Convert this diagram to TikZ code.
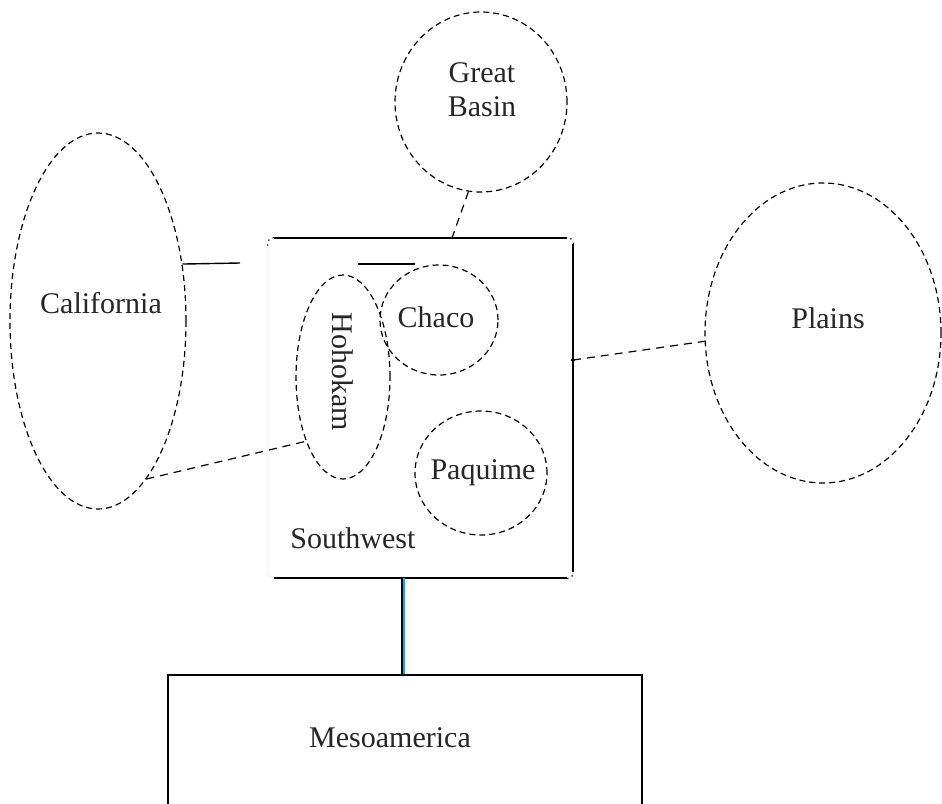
\documentclass[tikz,border=0pt]{standalone}
\usepackage{fontspec}
\setmainfont{Liberation Serif}
\usetikzlibrary{shapes.geometric,calc}
\begin{document}
\begin{tikzpicture}[x=0.5pt,y=-0.5pt,
  region/.style={draw, ellipse, inner sep=0pt, line width=0.6pt, dash pattern=on 3pt off 2pt},
  lbl/.style={font=\fontsize{15}{17}\selectfont, inner sep=0pt, align=center, text=black!85},
  link/.style={line width=0.7pt},
  dlink/.style={line width=0.6pt, dash pattern=on 4pt off 3pt},
  edge/.style={line width=1pt}]
\useasboundingbox (0,0) rectangle (942,803);
\clip (0,0) rectangle (942,803);

% outer regions
\node[region, minimum width=86pt, minimum height=90pt] (gb) at (481,102) {};
\node[lbl] (gbt) at (482,90) {Great\\Basin};
\node[region, minimum width=88pt, minimum height=188pt] (cal) at (98,321) {};
\node[lbl] (calt) at (101,303) {California};
\node[region, minimum width=118pt, minimum height=150pt] (plains) at (823,333) {};
\node[lbl] (plainst) at (828,318) {Plains};

% Southwest box
\node[draw=black!8, rounded corners=3pt, minimum width=152.5pt, minimum height=170pt, inner sep=0pt] (sw) at (420.5,408) {};
\draw[line width=0.6pt, dotted, rounded corners=3pt] ([xshift=-4pt]sw.north west) ++(4pt,-4pt) |- ++(4pt,4pt);
\draw[line width=0.6pt, dotted, rounded corners=3pt] ([xshift=-4pt]sw.north east) -| ([yshift=-4pt]sw.north east);
\draw[line width=0.6pt, dotted, rounded corners=3pt] ([yshift=4pt]sw.south east) |- ([xshift=-4pt]sw.south east);
\draw[edge] ([xshift=3pt]sw.north west) -- ([xshift=-3pt]sw.north east);
\draw[edge] ([yshift=-3pt]sw.north east) -- ([yshift=3pt]sw.south east);
\draw[edge] ([xshift=-3pt]sw.south east) -- ([xshift=3pt]sw.south west);
\node[lbl, anchor=west] (swt) at (290,538) {Southwest};

% inner regions
\node[region, minimum width=47pt, minimum height=102pt] (hoh) at (343,377) {};
\node[lbl, rotate=-90] (koht) at (343,372) {Hohokam};
\node[region, minimum width=59pt, minimum height=55pt] (chaco) at (439,320) {};
\node[lbl] (chacot) at (436,317) {Chaco};
\node[region, minimum width=66pt, minimum height=62pt] (paq) at (481,473) {};
\node[lbl] (paqt) at (483,473) {Paquime};

% Mesoamerica
\node[draw, line width=1pt, minimum width=237pt, minimum height=110pt, inner sep=0pt] (meso) at (405,785) {};
\node[lbl] (mesot) at (390,738) {Mesoamerica};

% connectors
\coordinate (gbin) at (452,238);
\draw[dlink] (gb.262) -- (gbin);
\coordinate (calin) at (240,263);
\draw[link] (cal.34) -- (calin);
\coordinate (chin) at (358,264);
\draw[link] (chin) -- (chin -| chaco.115);
\draw[dlink] (cal.-73) -- (hoh.240);
\coordinate (plin) at (573,360);
\draw[dlink] (plin) -- (plains.184);
\draw[link] ($(plin)+(-2,0)$) -- ($(plin)+(2,0)$);
\coordinate (msin) at (402,578);
\draw[line width=1pt, cyan] ($(msin)+(1.5,0)$) -- ($(msin |- meso.north)+(1.5,0)$);
\draw[line width=0.6pt] (msin) -- (msin |- meso.north);
\end{tikzpicture}
\end{document}
